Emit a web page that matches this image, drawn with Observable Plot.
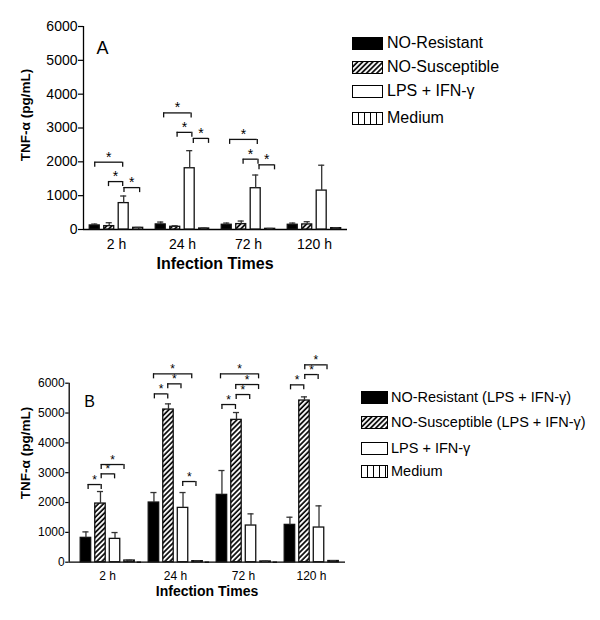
<!DOCTYPE html>
<html><head><meta charset="utf-8">
<script src="https://cdn.jsdelivr.net/npm/d3@7"></script>
<script src="https://cdn.jsdelivr.net/npm/@observablehq/plot@0.6"></script>
<style>
body{margin:0;background:#fff;font-family:"Liberation Sans",Arial,sans-serif;}
#page{position:relative;width:600px;height:620px;overflow:hidden;background:#fff}
.panel{position:absolute;left:0}
.legend{position:absolute;left:0;top:0}
.legend .row{position:absolute;display:flex;align-items:center;white-space:nowrap;color:#000}
.legend .row svg{flex:none}
</style></head><body>
<svg width="0" height="0" style="position:absolute">
<defs>
<pattern id="hatch" width="3.6" height="3.6" patternUnits="userSpaceOnUse" patternTransform="rotate(45)">
<rect width="3.6" height="3.6" fill="#fff"/><line x1="1" y1="0" x2="1" y2="3.6" stroke="#000" stroke-width="1.7"/></pattern>
<pattern id="vlines" width="6" height="6" patternUnits="userSpaceOnUse">
<rect width="6" height="6" fill="#fff"/><line x1="0.5" y1="0" x2="0.5" y2="6" stroke="#000" stroke-width="1"/></pattern>
</defs></svg>
<div id="page"></div>
<script>
// ---------- data ----------
const times = ["2 h", "24 h", "72 h", "120 h"];
const seriesA = ["NO-Resistant", "NO-Susceptible", "LPS + IFN-γ", "Medium"];
const seriesB = ["NO-Resistant (LPS + IFN-γ)", "NO-Susceptible (LPS + IFN-γ)", "LPS + IFN-γ", "Medium"];
const yTicks = [0, 1000, 2000, 3000, 4000, 5000, 6000];
const yLabel = "TNF-α (pg/mL)";
const xLabel = "Infection Times";

// Panel A means and SD (upper error)
const resistantA = [120, 150, 140, 140];
const resistantErrA = [40, 70, 50, 50];
const susceptibleA = [100, 80, 160, 150];
const susceptibleErrA = [100, 30, 90, 80];
const lpsA = [780, 1810, 1220, 1150];
const lpsErrA = [210, 520, 390, 750];
const mediumA = [50, 30, 20, 40];
const mediumErrA = [10, 10, 10, 10];

// Panel B means and SD (upper error)
const resistantB = [816, 2000, 2257, 1251];
const resistantErrB = [200, 335, 816, 257];
const susceptibleB = [1966, 5117, 4771, 5419];
const susceptibleErrB = [403, 190, 246, 123];
const lpsB = [782, 1821, 1229, 1162];
const lpsErrB = [212, 514, 391, 726];
const mediumB = [56, 35, 25, 40];
const mediumErrB = [10, 10, 10, 10];

// significance brackets: [time, from bar, to bar, height]
const bracketsA = [
  ["2 h", 0, 1.93, 1990], ["2 h", 0.95, 1.93, 1416], ["2 h", 2.02, 3.1, 1238],
  ["24 h", 0.2, 2.1, 3446], ["24 h", 1.13, 2.15, 2871], ["24 h", 2.25, 3.3, 2693],
  ["72 h", 0.2, 2.11, 2663], ["72 h", 1.13, 2.16, 2079], ["72 h", 2.23, 3.3, 1911]
];
const bracketsB = [
  ["2 h", 0.15, 1.05, 2603], ["2 h", 1.05, 1.97, 2961], ["2 h", 1.05, 2.62, 3274],
  ["24 h", 0.03, 0.95, 5642], ["24 h", 0.95, 1.86, 5978], ["24 h", -0.03, 2.6, 6313], ["24 h", 1.98, 2.89, 2704],
  ["72 h", 0, 0.93, 5285], ["72 h", 0.98, 1.91, 5620], ["72 h", 0.95, 2.52, 5955], ["72 h", -0.1, 2.52, 6313],
  ["120 h", 0.04, 0.95, 5944], ["120 h", 1.02, 1.94, 6290], ["120 h", 1.02, 2.55, 6615]
];

const fills = ["#000", "url(#hatch)", "#fff", "url(#vlines)"];
const FONT = '"Liberation Sans", Arial, sans-serif';

function buildRows(series, vals, errs) {
  const rows = [];
  series.forEach((s, i) => times.forEach((t, j) => rows.push({time: t, s, idx: i, value: vals[i][j], err: errs[i][j]})));
  return rows;
}

function panel(cfg) {
  const rows = buildRows(cfg.series, cfg.vals, cfg.errs);
  const br = cfg.brackets.map(([time, from, to, y]) => ({time, from, to, y}));
  const ends = br.flatMap(b => [{time: b.time, x: b.from, y: b.y}, {time: b.time, x: b.to, y: b.y}]);
  const hw = cfg.barHalf, cap = cfg.capHalf;
  const svg = Plot.plot({
    width: cfg.width, height: cfg.height,
    marginLeft: cfg.ml, marginRight: cfg.mr, marginTop: cfg.mt, marginBottom: cfg.mb,
    style: {fontFamily: FONT, fontSize: cfg.tickFont + "px", color: "#000", background: "transparent", overflow: "visible"},
    fx: {domain: times, padding: 0, label: null},
    x: {domain: cfg.xDomain, axis: null},
    y: {domain: [0, 6000]},
    color: {type: "ordinal", domain: cfg.series, range: fills},
    marks: [
      Plot.axisFx({anchor: "bottom", tickSize: 0, tickPadding: cfg.fxPad, label: null, fontSize: cfg.tickFont}),
      Plot.axisY({ticks: yTicks, tickSize: cfg.tickSize, tickPadding: cfg.tickPad, label: null,
        tickFormat: d => String(d), dx: cfg.axisDx, fontSize: cfg.tickFont, strokeWidth: 1.2}),
      Plot.ruleX([{time: times[0]}], {fx: "time", x: () => cfg.xDomain[0], dx: cfg.axisDx, stroke: "#000", strokeWidth: 1.3}),
      Plot.ruleY([0], {stroke: "#000", strokeWidth: 1.3, insetLeft: cfg.axisDx}),
      Plot.rect(rows, {fx: "time", x1: d => d.idx - hw, x2: d => d.idx + hw, y1: () => 0, y2: "value",
        fill: "s", stroke: "#111", strokeWidth: 1.3}),
      Plot.ruleX(rows, {fx: "time", x: "idx", y1: "value", y2: d => d.value + d.err, stroke: "#333", strokeWidth: 1.3}),
      Plot.ruleY(rows, {fx: "time", y: d => d.value + d.err, x1: d => d.idx - cap, x2: d => d.idx + cap, stroke: "#333", strokeWidth: 1.3}),
      Plot.ruleY(br, {fx: "time", y: "y", x1: "from", x2: "to", stroke: "#111", strokeWidth: 1.3}),
      Plot.ruleX(ends, {fx: "time", x: "x", y1: "y", y2: "y", insetBottom: -cfg.drop, stroke: "#111", strokeWidth: 1.3}),
      Plot.text(br, {fx: "time", x: d => (d.from + d.to) / 2, y: "y", text: () => "*", dy: cfg.starDy, fontSize: cfg.starFont, fill: "#000"}),
      Plot.text([{time: times[0]}], {fx: "time", frameAnchor: "top-left", text: () => cfg.letter,
        dx: cfg.letterDx, dy: cfg.letterDy, fontSize: cfg.letterFont, textAnchor: "middle", fill: "#000"})
    ]
  });
  const s = d3.select(svg);
  s.append("text").attr("transform", `translate(${cfg.yTitle[0]},${cfg.yTitle[1]}) rotate(-90)`)
    .attr("text-anchor", "middle").attr("dy", "0.35em").attr("font-weight", "bold")
    .attr("font-size", cfg.yTitleFont).attr("font-family", FONT).attr("fill", "#000").text(yLabel);
  s.append("text").attr("x", cfg.xTitle[0]).attr("y", cfg.xTitle[1])
    .attr("text-anchor", "middle").attr("dy", "0.35em").attr("font-weight", "bold")
    .attr("font-size", cfg.xTitleFont).attr("font-family", FONT).attr("fill", "#000").text(xLabel);
  const wrap = document.createElement("div");
  wrap.className = "panel";
  wrap.style.top = cfg.top + "px";
  wrap.appendChild(svg);
  return wrap;
}

function legend(cfg) {
  const div = document.createElement("div");
  div.className = "legend";
  cfg.series.forEach((name, i) => {
    const row = document.createElement("div");
    row.className = "row";
    row.style.left = cfg.x + "px";
    row.style.top = (cfg.rows[i] - 10) + "px";
    row.style.height = "20px";
    row.style.fontSize = cfg.font + "px";
    const sw = d3.create("svg").attr("width", cfg.w + 1).attr("height", cfg.h + 1);
    sw.append("rect").attr("x", 0.5).attr("y", 0.5).attr("width", cfg.w).attr("height", cfg.h)
      .attr("fill", fills[i]).attr("stroke", "#000").attr("stroke-width", 1);
    row.appendChild(sw.node());
    const label = document.createElement("span");
    label.textContent = name;
    label.style.marginLeft = cfg.gap + "px";
    row.appendChild(label);
    div.appendChild(row);
  });
  return div;
}

const page = document.getElementById("page");
page.appendChild(panel({
  top: 0, width: 350, height: 270, ml: 82.7, mr: 3, mt: 26, mb: 41,
  series: seriesA,
  vals: [resistantA, susceptibleA, lpsA, mediumA],
  errs: [resistantErrA, susceptibleErrA, lpsErrA, mediumErrA],
  brackets: bracketsA,
  xDomain: [-0.776, 3.782], barHalf: 0.345, capHalf: 0.21,
  tickFont: 14, fxPad: 9.6, tickSize: 5, tickPad: 1, axisDx: 0,
  drop: 5, starDy: -5, starFont: 14,
  letter: "A", letterDx: 19, letterDy: 15, letterFont: 18,
  yTitle: [25, 115], yTitleFont: 13.5, xTitle: [215, 263], xTitleFont: 16
}));
page.appendChild(panel({
  top: 330, width: 350, height: 270, ml: 72, mr: 5, mt: 52.7, mb: 38.3,
  series: seriesB,
  vals: [resistantB, susceptibleB, lpsB, mediumB],
  errs: [resistantErrB, susceptibleErrB, lpsErrB, mediumErrB],
  brackets: bracketsB,
  xDomain: [-0.856, 3.822], barHalf: 0.36, capHalf: 0.21,
  tickFont: 12, fxPad: 9, tickSize: 3.5, tickPad: 1, axisDx: -4.3,
  drop: 5, starDy: -4.5, starFont: 12,
  letter: "B", letterDx: 16, letterDy: 12, letterFont: 16,
  yTitle: [25, 123], yTitleFont: 13.5, xTitle: [207, 261], xTitleFont: 14
}));
page.appendChild(legend({series: seriesA, x: 352, rows: [43, 67, 91, 118], w: 30, h: 12, gap: 4, font: 16}));
page.appendChild(legend({series: seriesB, x: 361, rows: [397, 422, 448, 471], w: 26, h: 12, gap: 3, font: 14.5}));
</script>
</body></html>
